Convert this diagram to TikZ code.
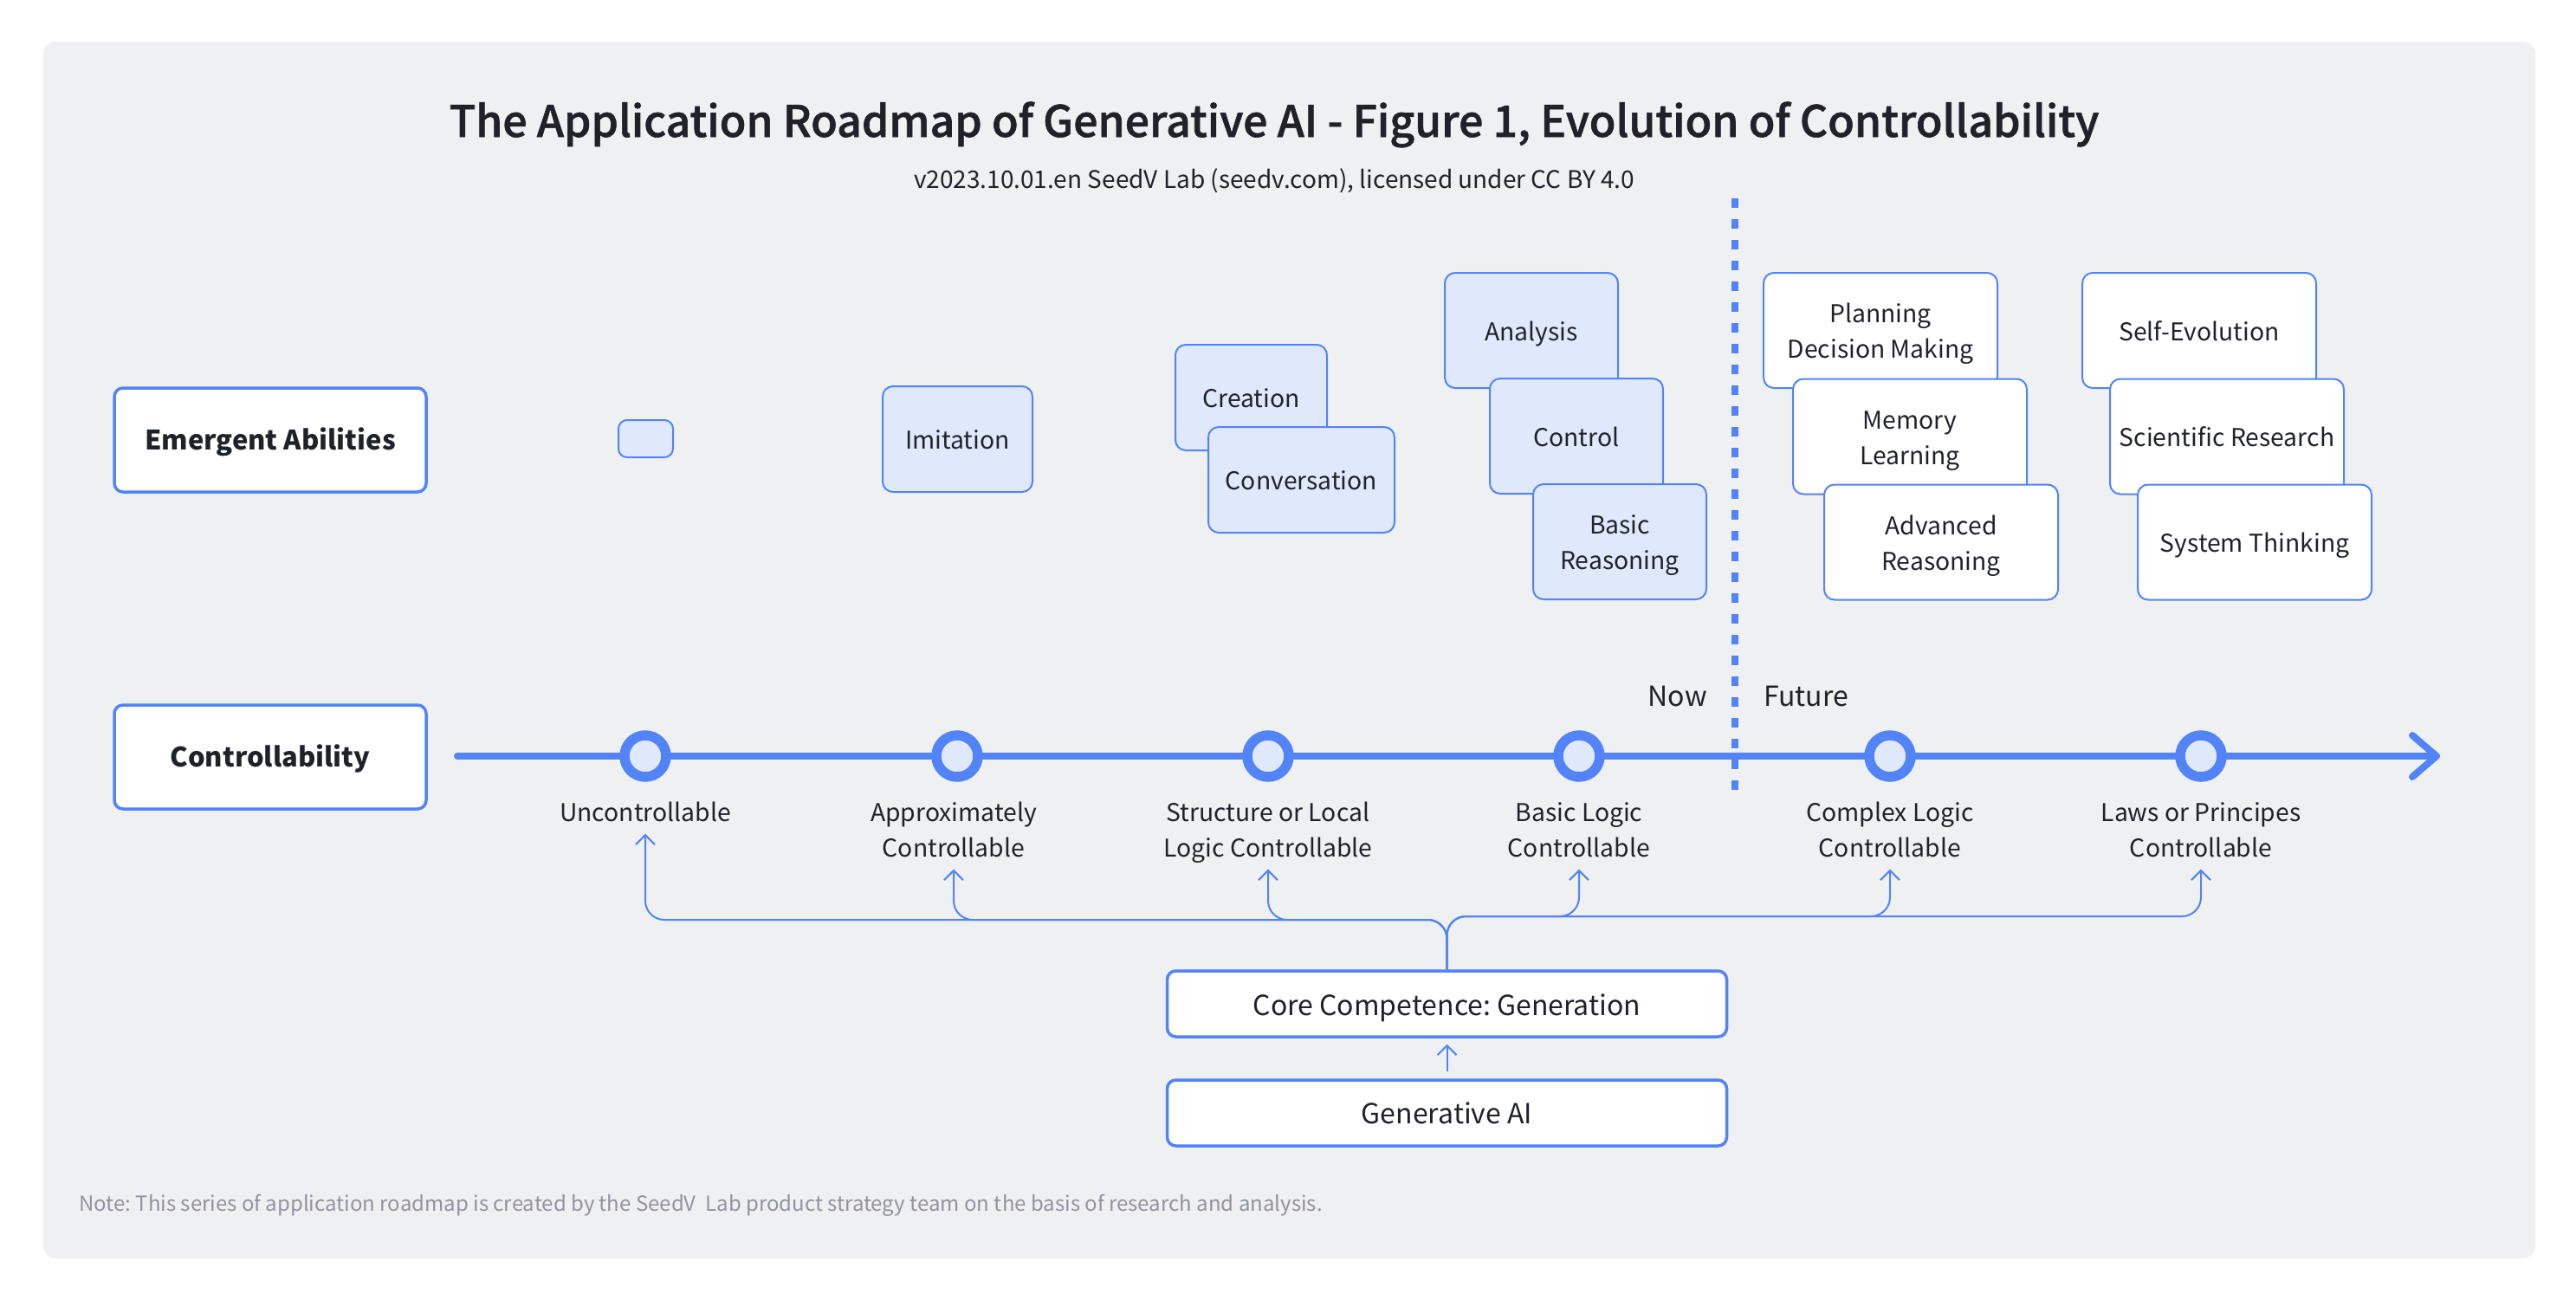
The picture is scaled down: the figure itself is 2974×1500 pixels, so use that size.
\documentclass[tikz,border=0pt]{standalone}
\usepackage{fontspec}
\setmainfont{Noto Sans CJK SC}
\newfontfamily\titlefam{Noto Sans CJK SC Medium}[RawFeature={embolden=1.2}]
\usetikzlibrary{arrows.meta,calc}
\definecolor{bl}{HTML}{5284F7}
\definecolor{lt}{HTML}{E0E9FC}
\definecolor{bg}{HTML}{EFF0F2}
\definecolor{tx}{HTML}{1F2329}
\definecolor{nt}{HTML}{8F959E}
\newcommand{\fbody}{\fontsize{28.3}{41}\selectfont}
\newcommand{\fhead}{\fontsize{31}{41}\selectfont\bfseries}
\newcommand{\fcore}{\fontsize{32}{42}\selectfont}
\newcommand{\fnowtx}{\fontsize{32}{42}\selectfont}
\newcommand{\ftitle}{\titlefam\fontsize{50}{60}\selectfont}
\newcommand{\fsubt}{\fontsize{28}{34}\selectfont}
\newcommand{\fnotetx}{\fontsize{24}{30}\selectfont}
\newcommand{\tp}{\rule{0pt}{33pt}}
\newcommand{\tpc}{\rule{0pt}{36pt}}
\newcommand{\bt}{\rule[-10pt]{0pt}{10pt}}
\tikzset{
  box/.style={draw=bl, line width=2pt, rounded corners=12pt, inner sep=0pt, align=center, text=tx, font=\fbody},
  lbox/.style={box, fill=lt},
  wbox/.style={box, fill=white},
  abox/.style={lbox, minimum width=200pt, minimum height=133pt},
  fbox/.style={wbox, minimum width=270pt, minimum height=133pt},
  hbox/.style={box, fill=white, line width=3.5pt, rounded corners=10pt, font=\fhead, minimum width=360pt, minimum height=120pt},
  cbox/.style={box, fill=white, line width=3.5pt, rounded corners=10pt, font=\fcore, minimum width=646pt, minimum height=76pt},
  dot/.style={circle, draw=bl, fill=lt, line width=11.5pt, minimum size=48pt, inner sep=0pt},
  lab/.style={anchor=north, inner sep=0pt, align=center, text=tx, font=\fbody},
  conn/.style={draw=bl, line width=2pt, rounded corners=22pt, -{Straight Barb[length=11pt,width=22pt]}, shorten >=2pt},
  tl/.style={draw=bl, line width=8pt, line cap=round, line join=round},
}
\begin{document}
\frenchspacing
\begin{tikzpicture}[x=1pt,y=-1pt]
\useasboundingbox (0,0) rectangle (2974,1500);
\fill[bg, rounded corners=14pt] (50,48) rectangle (2927,1453);

% title
\node[anchor=base, inner sep=0pt, text=tx, font=\ftitle] (title) at (1471,158) {The Application Roadmap of Generative AI - Figure 1, Evolution of Controllability};
\node[anchor=base, inner sep=0pt, text=tx, font=\fsubt] (sub) at (1471,217.5) {v2023.10.01.en SeedV Lab (seedv.com), licensed under CC BY 4.0};

% header boxes
\node[hbox] (hEA) at (312,508) {\tp Emergent Abilities\bt};
\node[hbox] (hC) at (312,874) {\tp Controllability\bt};

% abilities
\node[lbox, minimum width=63pt, minimum height=43pt, rounded corners=10pt] (e0) at (745.5,506.5) {};
\node[lbox, minimum width=173pt, minimum height=122pt] (imit) at (1105.5,507) {\tp Imitation\bt};
\node[lbox, minimum width=175pt, minimum height=122pt] (crea) at (1444.5,459) {\tp Creation\bt};
\node[lbox, minimum width=215pt, minimum height=122pt] (conv) at (1502.5,554) {\tp Conversation\bt};
\node[abox] (anal) at (1768,381.5) {\tp Analysis\bt};
\node[abox] (ctrl) at (1820,503.5) {\tp Control\bt};
\node[abox] (bres) at (1870,625.5) {\tp Basic\\Reasoning\bt};
\node[fbox] (plan) at (2171,381.5) {\tp Planning\\Decision Making\bt};
\node[fbox] (mem) at (2205,504) {\tp Memory\\Learning\bt};
\node[fbox] (adv) at (2241,626) {\tp Advanced\\Reasoning\bt};
\node[fbox] (self) at (2539,381.5) {\tp Self-Evolution\bt};
\node[fbox] (sci) at (2571,504) {\tp Scientific Research\bt};
\node[fbox] (sys) at (2603,626) {\tp System Thinking\bt};

% now / future divider
\coordinate (dtop) at (2003,229);
\coordinate (dbot) at (2003,912);
\draw[bl, line width=8pt, dash pattern=on 11pt off 13pt] (dtop) -- (dbot);
\node[anchor=base east, inner sep=0pt, text=tx, font=\fnowtx] (now) at (1971,815) {Now};
\node[anchor=base west, inner sep=0pt, text=tx, font=\fnowtx] (fut) at (2036,815) {Future};

% timeline
\coordinate (tls) at (528,873);
\coordinate (tle) at (2813,873);
\draw[tl] (tls) -- (tle);
\draw[tl] ($(tle)+(-28,-24)$) -- (tle) -- ($(tle)+(-28,24)$);

\foreach \i/\x in {1/745,2/1105,3/1464,4/1823,5/2182,6/2541}{
  \node[dot] (c\i) at (\x,873) {};
}

\node[lab] (l1) at (745,919.3) {\strut Uncontrollable\strut};
\node[lab] (l2) at (1101,919.3) {\strut Approximately\\Controllable\strut};
\node[lab] (l3) at (1464,919.3) {\strut Structure or Local\\Logic Controllable\strut};
\node[lab] (l4) at (1823,919.3) {\strut Basic Logic\\Controllable\strut};
\node[lab] (l5) at (2182,919.3) {\strut Complex Logic\\Controllable\strut};
\node[lab] (l6) at (2541,919.3) {\strut Laws or Principes\\Controllable\strut};

% core
\node[cbox] (core) at (1670.5,1159) {\tpc Core Competence: Generation\bt};
\node[cbox] (gen) at (1670.5,1285) {Generative AI};

\coordinate (busL) at (0,1062);
\coordinate (busR) at (0,1058);
\foreach \i in {1,2,3}{
  \draw[conn] (core.north) |- (l\i.south |- busL) -- (l\i.south);
}
\foreach \i in {4,5,6}{
  \draw[conn] (core.north) |- (l\i.south |- busR) -- (l\i.south);
}
\draw[conn, rounded corners=0pt, shorten >=7pt, shorten <=8pt] (gen.north) -- (core.south);

% note
\node[anchor=base west, inner sep=0pt, text=nt, font=\fnotetx] (note) at (91,1398) {Note: This series of application roadmap is created by the SeedV\ \ Lab product strategy team on the basis of research and analysis.};
\end{tikzpicture}
\end{document}
